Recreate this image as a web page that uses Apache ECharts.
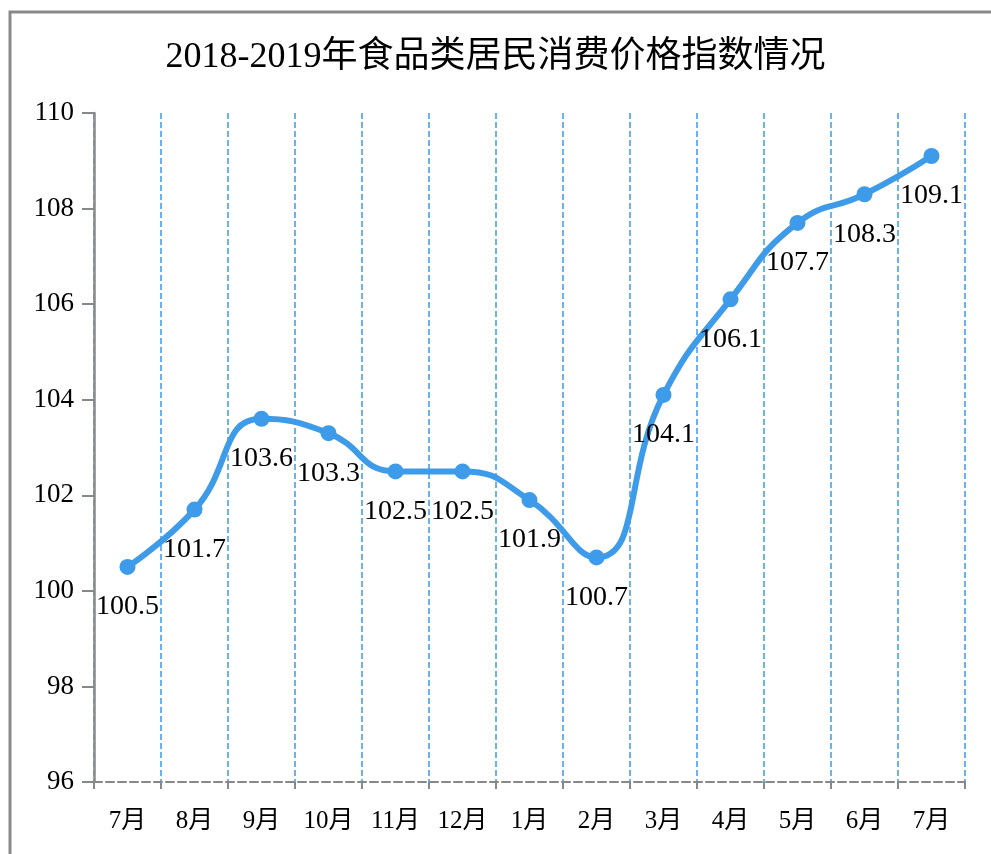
<!DOCTYPE html>
<html><head><meta charset="utf-8">
<script src="https://cdn.jsdelivr.net/npm/echarts@6/dist/echarts.min.js"></script>
<style>html,body{margin:0;padding:0;background:#fff}#c{width:991px;height:854px}</style>
</head><body><div id="c"></div>
<script>
const titleText = '2018-2019年食品类居民消费价格指数情况';
const categories = ['7月','8月','9月','10月','11月','12月','1月','2月','3月','4月','5月','6月','7月'];
const values = [100.5, 101.7, 103.6, 103.3, 102.5, 102.5, 101.9, 100.7, 104.1, 106.1, 107.7, 108.3, 109.1];
const yMin = 96, yMax = 110, yStep = 2;

const font = '"Liberation Serif","DejaVu Serif","Noto Sans CJK SC",serif';
const chart = echarts.init(document.getElementById('c'));
chart.setOption({
  animation: false,
  backgroundColor: '#fff',
  title: {text: titleText, left: 'center', top: 35,
    textStyle: {fontFamily: font, fontSize: 36, fontWeight: 'normal', color: '#000'}},
  graphic: [{type: 'rect', shape: {x: 10, y: 12, width: 1100, height: 1000},
    style: {fill: 'none', stroke: '#8a8a8a', lineWidth: 3}, z: 100}],
  grid: {left: 94, right: 26, top: 113, bottom: 72},
  xAxis: {type: 'category', data: categories, boundaryGap: true,
    axisLine: {lineStyle: {color: '#888', type: 'dashed', width: 2}},
    axisTick: {show: true, interval: 0, length: 7, lineStyle: {color: '#888', width: 2}},
    axisLabel: {interval: 0, hideOverlap: false, fontFamily: font, fontSize: 25, color: '#000', margin: 27},
    splitLine: {show: true, interval: 0, lineStyle: {color: '#3d9be9', type: 'dashed', width: 1.5}}},
  yAxis: {type: 'value', min: yMin, max: yMax, interval: yStep,
    axisLine: {show: true, lineStyle: {color: '#888', width: 2.5}},
    axisTick: {show: true, length: 12, lineStyle: {color: '#888', width: 2}},
    axisLabel: {fontFamily: font, fontSize: 27, color: '#000', margin: 20},
    splitLine: {show: false}},
  series: [{type: 'line', data: values, smooth: 0.5,
    symbol: 'circle', symbolSize: 16,
    lineStyle: {color: '#3d9be9', width: 6},
    itemStyle: {color: '#3d9be9'},
    label: {show: true, position: 'bottom', distance: 18,
      fontFamily: font, fontSize: 28, color: '#000'}}]
});
</script></body></html>
